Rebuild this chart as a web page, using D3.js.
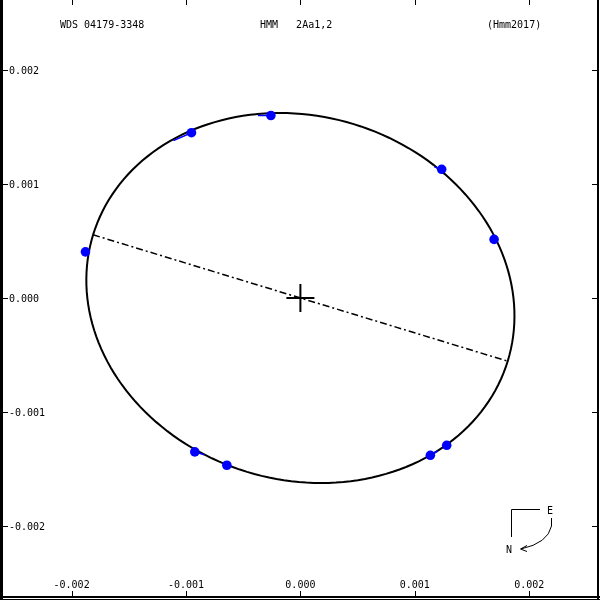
<!DOCTYPE html>
<html>
<head>
<meta charset="utf-8">
<script src="https://cdn.jsdelivr.net/npm/d3@7/dist/d3.min.js"></script>
<style>
  html, body { margin: 0; padding: 0; background: #fff; }
  svg { display: block; }
  text { font-family: "DejaVu Sans Mono", monospace; font-size: 10px; fill: #000; white-space: pre; }
  .txt { filter: grayscale(100%); }
</style>
</head>
<body>
<svg id="chart" width="600" height="600"></svg>
<script>
// ---- data ----
const headerLabels = ["WDS 04179-3348", "HMM   2Aa1,2", "(Hmm2017)"];
const xTickValues = [-0.002, -0.001, 0.000, 0.001, 0.002];
const yTickValues = [0.002, 0.001, 0.000, -0.001, -0.002];
const xTickLabels = ["-0.002", "-0.001", "0.000", "0.001", "0.002"];
const yTickLabels = ["0.002", "0.001", "0.000", "-0.001", "-0.002"];
// apparent orbit (circular orbit -> centred ellipse): semi-axes and tilt of major axis (deg)
const orbitSemiMajor = 0.001895;
const orbitSemiMinor = 0.001595;
const orbitTiltDeg = -17;
// observations (arcsec) and predicted positions
const obsX  = [-0.001879, -0.000952, -0.000258, 0.001235, 0.001693, 0.001279, 0.001136, -0.000643, -0.000923];
const obsY  = [ 0.000405,  0.001450,  0.001601, 0.001129, 0.000514, -0.001292, -0.001380, -0.001467, -0.001350];
const predX = [-0.001885, -0.001110, -0.000372, 0.001170, 0.001700, 0.001279, 0.001200, -0.000643, -0.000840];
const predY = [ 0.000410,  0.001380,  0.001601, 0.001150, 0.000505, -0.001292, -0.001340, -0.001467, -0.001375];

// ---- scales ----
const x = d3.scaleLinear().domain([-0.002, 0.002]).range([71.6, 529.2]);
const y = d3.scaleLinear().domain([-0.002, 0.002]).range([526, 70]);

const svg = d3.select("#chart");

// frame
svg.append("rect").attr("x", 0).attr("y", 0).attr("width", 3).attr("height", 600).attr("fill", "#000");
svg.append("rect").attr("x", 0).attr("y", 596).attr("width", 600).attr("height", 2).attr("fill", "#000");
svg.append("rect").attr("x", 0).attr("y", 599).attr("width", 600).attr("height", 1).attr("fill", "#000");
svg.append("rect").attr("x", 597).attr("y", 0).attr("width", 2).attr("height", 600).attr("fill", "#000");

// ticks
const tk = svg.append("g").attr("stroke", "#000").attr("stroke-width", 1);
xTickValues.forEach(v => {
  const px = Math.round(x(v)) + 0.5;
  tk.append("line").attr("x1", px).attr("x2", px).attr("y1", 0).attr("y2", 5);
  tk.append("line").attr("x1", px).attr("x2", px).attr("y1", 591).attr("y2", 596);
});
yTickValues.forEach(v => {
  const py = Math.round(y(v)) + 0.5;
  tk.append("line").attr("x1", 3).attr("x2", 8).attr("y1", py).attr("y2", py);
  tk.append("line").attr("x1", 592).attr("x2", 597).attr("y1", py).attr("y2", py);
});

const txt = svg.append("g").attr("class", "txt");

// tick labels
txt.append("g").selectAll("text").data(xTickValues).join("text")
  .attr("x", d => x(d)).attr("y", 588).attr("text-anchor", "middle")
  .text((d, i) => xTickLabels[i]);
txt.append("g").selectAll("text").data(yTickValues).join("text")
  .attr("x", 9).attr("y", d => y(d) + 4).attr("text-anchor", "start")
  .text((d, i) => yTickLabels[i]);

// header
const headerX = [60, 260, 487];
txt.append("g").selectAll("text").data(headerLabels).join("text")
  .attr("x", (d, i) => headerX[i]).attr("y", 28)
  .text(d => d);

// orbit ellipse
const th = orbitTiltDeg * Math.PI / 180;
const ts = d3.range(0, 361, 2).map(t => t * Math.PI / 180);
const ellPts = ts.map(t => {
  const u = orbitSemiMajor * Math.cos(t), w = orbitSemiMinor * Math.sin(t);
  return [u * Math.cos(th) - w * Math.sin(th), u * Math.sin(th) + w * Math.cos(th)];
});
const line = d3.line().x(d => x(d[0])).y(d => y(d[1])).curve(d3.curveLinearClosed);
svg.append("path").attr("d", line(ellPts)).attr("fill", "none").attr("stroke", "#000").attr("stroke-width", 2);

// line of nodes (major axis)
const nodes = [[-orbitSemiMajor * Math.cos(th), -orbitSemiMajor * Math.sin(th)],
               [ orbitSemiMajor * Math.cos(th),  orbitSemiMajor * Math.sin(th)]];
svg.append("line")
  .attr("x1", x(nodes[0][0])).attr("y1", y(nodes[0][1]))
  .attr("x2", x(nodes[1][0])).attr("y2", y(nodes[1][1]))
  .attr("stroke", "#000").attr("stroke-width", 1.5).attr("stroke-dasharray", "7,3,2,3");

// central cross (primary)
svg.append("line").attr("x1", x(0) - 14).attr("x2", x(0) + 14).attr("y1", y(0)).attr("y2", y(0))
  .attr("stroke", "#000").attr("stroke-width", 2);
svg.append("line").attr("x1", x(0)).attr("x2", x(0)).attr("y1", y(0) - 14).attr("y2", y(0) + 14)
  .attr("stroke", "#000").attr("stroke-width", 2);

// O-C residual lines
svg.append("g").selectAll("line").data(obsX).join("line")
  .attr("x1", (d, i) => x(obsX[i])).attr("y1", (d, i) => y(obsY[i]))
  .attr("x2", (d, i) => x(predX[i])).attr("y2", (d, i) => y(predY[i]))
  .attr("stroke", "#0000ff").attr("stroke-width", 1.5);

// observations
svg.append("g").selectAll("circle").data(obsX).join("circle")
  .attr("cx", (d, i) => x(obsX[i])).attr("cy", (d, i) => y(obsY[i]))
  .attr("r", 4.8).attr("fill", "#0000ff");

// compass
const cp = svg.append("g").attr("stroke", "#000").attr("stroke-width", 1).attr("fill", "none");
cp.append("path").attr("d", "M540,509.5 L511.5,509.5 L511.5,537");
cp.append("path").attr("d", "M551.5,518 L551.5,526 Q548,543 521,549");
cp.append("path").attr("d", "M527,545.5 L520.5,549 L527,551.5");
txt.append("text").attr("x", 550).attr("y", 513.5).attr("text-anchor", "middle").text("E");
txt.append("text").attr("x", 509).attr("y", 552.5).attr("text-anchor", "middle").text("N");
</script>
</body>
</html>
